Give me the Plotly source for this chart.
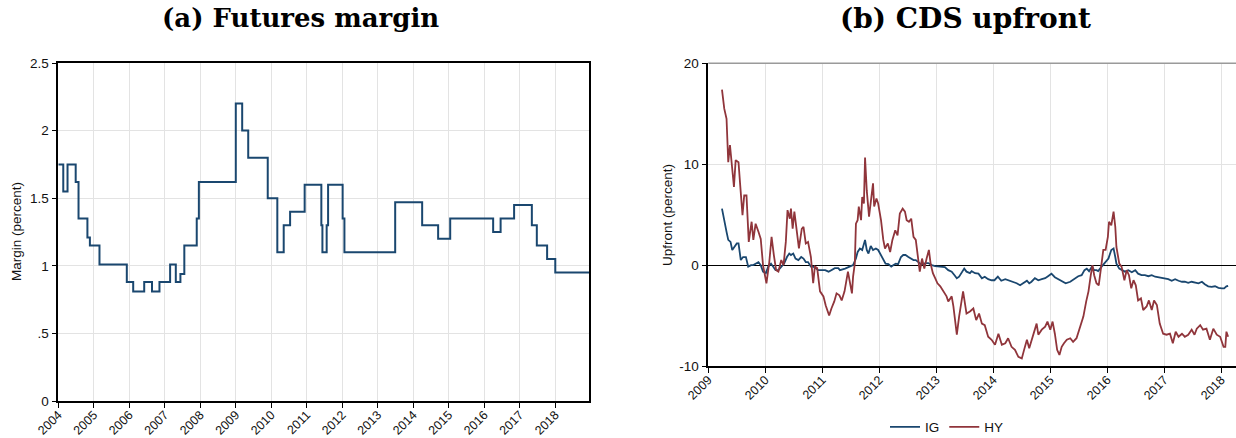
import plotly.graph_objects as go

# ---------------- Panel (a): futures margin (step series) ----------------
margin_dates = [2004.00, 2004.14, 2004.26, 2004.49, 2004.57, 2004.82, 2004.89, 2005.16,
                2005.93, 2006.11, 2006.42, 2006.64, 2006.85, 2007.15, 2007.31, 2007.44,
                2007.55, 2007.90, 2007.96, 2009.00, 2009.18, 2009.35, 2009.90, 2010.17,
                2010.35, 2010.53, 2010.94, 2011.41, 2011.44, 2011.56, 2011.60, 2012.01,
                2012.06, 2013.49, 2014.25, 2014.70, 2015.04, 2016.25, 2016.46, 2016.84,
                2017.34, 2017.48, 2017.77, 2018.00, 2018.95]
margin_vals = [1.75, 1.55, 1.75, 1.62, 1.35, 1.21, 1.15, 1.01,
               0.88, 0.81, 0.88, 0.81, 0.88, 1.01, 0.88, 0.94,
               1.15, 1.35, 1.62, 2.20, 2.00, 1.80, 1.50, 1.10,
               1.30, 1.40, 1.60, 1.30, 1.10, 1.30, 1.60, 1.35,
               1.10, 1.47, 1.30, 1.20, 1.35, 1.25, 1.35, 1.45,
               1.30, 1.15, 1.05, 0.95, 0.95]
margin_years = list(range(2004, 2019))
margin_yticks = [0, 0.5, 1, 1.5, 2, 2.5]
margin_yticklabels = ["0", ".5", "1", "1.5", "2", "2.5"]

# ---------------- Panel (b): CDS upfront ----------------
hy_dates = [2009.24, 2009.28, 2009.32, 2009.35, 2009.38, 2009.41, 2009.45, 2009.48, 2009.53, 2009.56,
            2009.60, 2009.63, 2009.67, 2009.71, 2009.76, 2009.79, 2009.83, 2009.88, 2009.92, 2009.96,
            2010.02, 2010.07, 2010.11, 2010.15, 2010.19, 2010.23, 2010.28, 2010.32, 2010.36, 2010.39,
            2010.43, 2010.45, 2010.48, 2010.51, 2010.55, 2010.59, 2010.64, 2010.67, 2010.71, 2010.75,
            2010.80, 2010.84, 2010.87, 2010.91, 2010.96, 2011.02, 2011.06, 2011.12, 2011.16, 2011.21,
            2011.25, 2011.30, 2011.34, 2011.39, 2011.45, 2011.49, 2011.52, 2011.54, 2011.57, 2011.59,
            2011.62, 2011.64, 2011.68, 2011.70, 2011.73, 2011.75, 2011.78, 2011.82, 2011.87, 2011.89,
            2011.91, 2011.95, 2011.98, 2012.03, 2012.07, 2012.10, 2012.15, 2012.19, 2012.23, 2012.28,
            2012.32, 2012.36, 2012.41, 2012.45, 2012.48, 2012.52, 2012.56, 2012.60, 2012.64, 2012.68,
            2012.71, 2012.75, 2012.79, 2012.83, 2012.87, 2012.90, 2012.94, 2012.98, 2013.02, 2013.07,
            2013.12, 2013.18, 2013.21, 2013.27, 2013.30, 2013.36, 2013.40, 2013.45, 2013.47, 2013.53,
            2013.59, 2013.65, 2013.70, 2013.75, 2013.80, 2013.85, 2013.91, 2013.97, 2014.03, 2014.09,
            2014.15, 2014.21, 2014.26, 2014.32, 2014.38, 2014.44, 2014.50, 2014.54, 2014.59, 2014.63,
            2014.70, 2014.76, 2014.79, 2014.85, 2014.91, 2014.95, 2015.00, 2015.04, 2015.08, 2015.12,
            2015.16, 2015.20, 2015.24, 2015.29, 2015.35, 2015.40, 2015.46, 2015.52, 2015.58, 2015.63,
            2015.67, 2015.71, 2015.74, 2015.77, 2015.81, 2015.85, 2015.89, 2015.93, 2015.97, 2016.01,
            2016.03, 2016.07, 2016.11, 2016.14, 2016.16, 2016.21, 2016.25, 2016.30, 2016.34, 2016.38,
            2016.42, 2016.46, 2016.50, 2016.54, 2016.59, 2016.63, 2016.69, 2016.73, 2016.78, 2016.82,
            2016.87, 2016.92, 2016.98, 2017.04, 2017.10, 2017.15, 2017.20, 2017.25, 2017.31, 2017.36,
            2017.42, 2017.48, 2017.53, 2017.57, 2017.63, 2017.68, 2017.74, 2017.80, 2017.86, 2017.92,
            2017.98, 2018.04, 2018.07, 2018.09, 2018.12]
hy_vals = [17.4, 15.5, 14.5, 10.2, 11.9, 10.2, 7.75, 10.4, 10.2, 7.9,
           4.95, 6.9, 6.9, 2.3, 4.3, 2.5, 4.1, 3.3, 2.6, 0.0,
           -1.8, 0.3, 2.8, 1.0, -0.5, -0.65, 0.5, 0.0, 2.3, 5.45,
           4.6, 5.6, 3.6, 5.3, 3.3, 1.65, 3.6, 3.8, 2.15, 2.3,
           0.8, -1.8, -0.15, -0.3, -2.6, -3.1, -4.0, -5.0, -4.3, -3.6,
           -2.8, -3.0, -3.5, -2.6, -0.65, -2.1, -2.8, -1.15, 0.15, 4.1,
           4.45, 5.8, 4.45, 6.75, 6.1, 10.65, 7.4, 4.8, 7.1, 8.1,
           5.8, 6.6, 6.1, 4.45, 2.5, 1.65, 2.15, 1.3, 2.5, 3.45,
           2.95, 5.1, 5.6, 5.3, 4.45, 4.3, 4.6, 2.8, 2.5, 0.5,
           -0.65, 0.65, -0.35, 0.65, 1.5, 0.15, -0.8, -1.3, -1.8, -2.1,
           -2.5, -3.1, -3.6, -3.1, -4.1, -6.9, -5.1, -3.3, -2.6, -4.8,
           -4.6, -4.3, -5.45, -4.8, -5.8, -5.95, -7.1, -7.4, -7.9, -6.8,
           -7.9, -7.75, -7.25, -8.1, -8.4, -9.1, -9.25, -8.4, -7.4, -8.25,
           -6.9, -5.8, -6.9, -6.4, -6.1, -5.6, -6.4, -5.6, -6.8, -8.4,
           -8.9, -8.1, -7.75, -7.4, -7.25, -7.6, -7.25, -6.1, -5.1, -3.6,
           -2.6, -1.0, 0.0, -1.0, -1.8, -2.0, -0.15, 1.5, 1.5, 2.8,
           4.3, 3.95, 5.3, 3.8, 1.8, 0.15, -0.15, -1.5, -0.5, -1.0,
           -2.3, -1.5, -2.0, -3.5, -3.3, -4.45, -4.1, -3.5, -4.45, -3.5,
           -3.95, -5.8, -6.8, -6.9, -6.8, -7.75, -6.6, -7.1, -6.8, -7.1,
           -6.9, -6.4, -6.9, -6.3, -5.95, -6.4, -6.3, -7.4, -6.3, -6.9,
           -7.1, -8.1, -8.1, -6.6, -7.1]

ig_dates = [2009.24, 2009.28, 2009.32, 2009.35, 2009.39, 2009.42, 2009.46, 2009.50, 2009.53, 2009.57,
            2009.61, 2009.66, 2009.70, 2009.75, 2009.79, 2009.83, 2009.88, 2009.92, 2009.96, 2010.01,
            2010.05, 2010.10, 2010.14, 2010.18, 2010.23, 2010.29, 2010.33, 2010.38, 2010.42, 2010.45,
            2010.49, 2010.53, 2010.58, 2010.63, 2010.67, 2010.71, 2010.75, 2010.80, 2010.84, 2010.88,
            2010.93, 2010.99, 2011.05, 2011.11, 2011.16, 2011.22, 2011.28, 2011.31, 2011.40, 2011.49,
            2011.54, 2011.59, 2011.62, 2011.66, 2011.70, 2011.75, 2011.78, 2011.81, 2011.85, 2011.89,
            2011.94, 2011.98, 2012.03, 2012.07, 2012.11, 2012.16, 2012.21, 2012.25, 2012.29, 2012.33,
            2012.38, 2012.42, 2012.46, 2012.51, 2012.56, 2012.60, 2012.64, 2012.68, 2012.73, 2012.77,
            2012.81, 2012.86, 2012.92, 2012.98, 2013.04, 2013.09, 2013.15, 2013.21, 2013.27, 2013.32,
            2013.36, 2013.40, 2013.45, 2013.49, 2013.53, 2013.59, 2013.62, 2013.68, 2013.74, 2013.80,
            2013.85, 2013.91, 2013.97, 2014.02, 2014.08, 2014.14, 2014.21, 2014.28, 2014.35, 2014.41,
            2014.47, 2014.53, 2014.59, 2014.63, 2014.67, 2014.73, 2014.79, 2014.85, 2014.91, 2014.96,
            2015.02, 2015.08, 2015.15, 2015.21, 2015.27, 2015.35, 2015.42, 2015.49, 2015.55, 2015.60,
            2015.64, 2015.68, 2015.73, 2015.77, 2015.81, 2015.84, 2015.90, 2015.96, 2016.02, 2016.07,
            2016.11, 2016.14, 2016.16, 2016.21, 2016.25, 2016.31, 2016.37, 2016.43, 2016.49, 2016.54,
            2016.60, 2016.66, 2016.72, 2016.78, 2016.84, 2016.89, 2016.95, 2017.01, 2017.07, 2017.13,
            2017.19, 2017.25, 2017.31, 2017.36, 2017.42, 2017.48, 2017.54, 2017.60, 2017.66, 2017.71,
            2017.77, 2017.83, 2017.89, 2017.95, 2018.01, 2018.05, 2018.09, 2018.12]
ig_vals = [5.6, 4.3, 3.3, 2.5, 2.3, 1.5, 1.8, 2.15, 2.15, 0.5,
           0.8, 0.8, -0.15, 0.0, 0.0, 0.15, 0.3, 0.0, -0.65, -0.8,
           -0.15, 0.15, -0.15, -0.5, -0.5, -0.15, 0.15, 0.8, 1.15, 1.0,
           1.15, 0.65, 0.5, 0.8, 0.65, 0.3, 0.3, -0.15, -0.15, -0.3,
           -0.5, -0.5, -0.5, -0.65, -0.5, -0.3, -0.3, -0.5, -0.35, -0.1,
           0.0, 0.65, 1.3, 1.65, 1.5, 2.5, 1.5, 1.15, 1.9, 1.5,
           1.65, 1.5, 1.0, 0.5, 0.15, 0.1, -0.15, 0.0, 0.15, 0.1,
           0.8, 1.0, 1.0, 0.8, 0.65, 0.5, 0.5, 0.3, 0.1, 0.1,
           0.2, 0.2, 0.0, -0.1, -0.15, -0.15, -0.2, -0.5, -0.65, -1.0,
           -1.3, -1.15, -0.65, -0.35, -0.65, -0.8, -0.6, -0.8, -0.85, -1.3,
           -1.15, -1.4, -1.5, -1.5, -1.15, -1.55, -1.4, -1.55, -1.65, -1.8,
           -2.0, -1.8, -1.55, -1.8, -1.65, -1.3, -1.5, -1.4, -1.3, -1.1,
           -0.85, -1.2, -1.4, -1.65, -1.8, -1.65, -1.4, -1.1, -1.0, -0.5,
           -0.35, -0.6, -0.15, -0.5, -0.5, -0.6, -0.15, 0.25, 0.65, 1.5,
           1.65, 0.8, 0.15, -0.35, -0.5, -0.65, -0.5, -0.7, -0.5, -0.85,
           -1.0, -1.0, -1.1, -1.0, -1.15, -1.2, -1.3, -1.3, -1.4, -1.55,
           -1.4, -1.55, -1.65, -1.65, -1.75, -1.65, -1.75, -1.8, -1.65, -1.9,
           -2.1, -2.15, -2.1, -2.25, -2.3, -2.3, -2.1, -2.05]
cds_years = list(range(2009, 2019))
cds_yticks = [-10, 0, 10, 20]

BLUE = "#1a476f"
RED = "#90353b"
GRID = "#e3e3e3"
FONT = "Liberation Sans, Arial, sans-serif"
W, H = 1236, 438

fig = go.Figure()

fig.add_trace(go.Scatter(x=margin_dates, y=margin_vals, mode="lines",
                         line=dict(color=BLUE, width=2, shape="hv"),
                         xaxis="x", yaxis="y", showlegend=False))
fig.add_trace(go.Scatter(x=ig_dates, y=ig_vals, mode="lines", name="IG",
                         line=dict(color=BLUE, width=1.8),
                         xaxis="x2", yaxis="y2"))
fig.add_trace(go.Scatter(x=hy_dates, y=hy_vals, mode="lines", name="HY",
                         line=dict(color=RED, width=1.8),
                         xaxis="x2", yaxis="y2"))

tickfont = dict(family=FONT, size=13.5, color="#111")
xtickfont = dict(family=FONT, size=12.5, color="#111")

fig.update_layout(
    width=W, height=H,
    margin=dict(l=0, r=0, t=0, b=0, autoexpand=False),
    paper_bgcolor="white", plot_bgcolor="white",
    font=dict(family=FONT, color="#111"),
    xaxis=dict(domain=[58.3 / W, 589 / W], range=[2004, 2018.95],
               tickvals=margin_years, ticktext=[str(y) for y in margin_years],
               tickangle=-45, tickfont=xtickfont, ticks="outside", ticklen=5,
               ticklabelstandoff=-5,
               tickcolor="black", showgrid=True, gridcolor=GRID, gridwidth=1,
               showline=True, linecolor="black", linewidth=1.5, mirror=True,
               zeroline=False, anchor="y", automargin=False),
    yaxis=dict(domain=[(H - 401) / H, (H - 63) / H], range=[0, 2.5],
               tickvals=margin_yticks, ticktext=margin_yticklabels,
               tickfont=tickfont, ticks="outside", ticklen=5, tickcolor="black",
               showgrid=True, gridcolor=GRID, gridwidth=1,
               showline=True, linecolor="black", linewidth=1.5, mirror=True,
               zeroline=False, anchor="x", automargin=False),
    xaxis2=dict(domain=[708.3 / W, 1.0], range=[2009, 2018.258],
                tickvals=cds_years, ticktext=[str(y) for y in cds_years],
                tickangle=-45, tickfont=xtickfont, ticks="outside", ticklen=5,
                ticklabelstandoff=-5,
                tickcolor="black", showgrid=True, gridcolor=GRID, gridwidth=1,
                showline=True, linecolor="black", linewidth=1.5,
                zeroline=False, anchor="y2", automargin=False),
    yaxis2=dict(domain=[(H - 366) / H, (H - 63.3) / H], range=[-10, 20],
                tickvals=cds_yticks, ticktext=[str(v) for v in cds_yticks],
                tickfont=tickfont, ticks="outside", ticklen=5, tickcolor="black",
                showgrid=True, gridcolor=GRID, gridwidth=1,
                showline=True, linecolor="black", linewidth=1.5,
                zeroline=True, zerolinecolor="black", zerolinewidth=1.3,
                anchor="x2", automargin=False),
    legend=dict(orientation="h", x=947 / W, xanchor="center", y=(H - 427) / H,
                yanchor="middle", font=dict(family=FONT, size=13.5, color="#111"),
                itemwidth=30, bgcolor="rgba(0,0,0,0)"),
    shapes=[
        dict(type="line", xref="x2 domain", yref="y2 domain", x0=0, x1=1, y0=1, y1=1,
             line=dict(color="#9a9a9a", width=1.5)),
    ],
    annotations=[
        dict(text="<b>(a) Futures margin</b>", x=300 / W, y=(H - 18) / H,
             xref="paper", yref="paper", showarrow=False, xanchor="center",
             yanchor="middle", font=dict(family="DejaVu Serif, serif", size=26, color="black")),
        dict(text="<b>(b) CDS upfront</b>", x=965 / W, y=(H - 18) / H,
             xref="paper", yref="paper", showarrow=False, xanchor="center",
             yanchor="middle", font=dict(family="DejaVu Serif, serif", size=28, color="black")),
        dict(text="Margin (percent)", x=16 / W, y=(H - 232) / H, textangle=-90,
             xref="paper", yref="paper", showarrow=False, xanchor="center",
             yanchor="middle", font=dict(family=FONT, size=13.5, color="#111")),
        dict(text="Upfront (percent)", x=667 / W, y=(H - 215) / H, textangle=-90,
             xref="paper", yref="paper", showarrow=False, xanchor="center",
             yanchor="middle", font=dict(family=FONT, size=13.5, color="#111")),
    ],
)

fig.write_html("out.html", config={"displayModeBar": False},
               post_script="document.body.style.margin='0';document.body.style.overflow='hidden';")
